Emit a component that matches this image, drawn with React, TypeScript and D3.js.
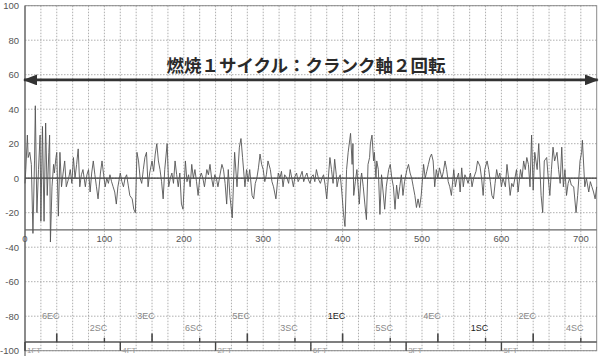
import React from "react";
import * as d3 from "d3";

const yTicks = [100, 80, 60, 40, 20, 0, -20, -40, -60, -80, -100];
const xTicks = [0, 100, 200, 300, 400, 500, 600, 700];
const title = "燃焼１サイクル：クランク軸２回転";

const ecEvents: [number, string][] = [
  [40, "6EC"], [160, "3EC"], [280, "5EC"], [400, "1EC"], [520, "4EC"], [640, "2EC"],
];
const scEvents: [number, string][] = [
  [100, "2SC"], [220, "6SC"], [340, "3SC"], [460, "5SC"], [580, "1SC"], [700, "4SC"],
];
const ftEvents: [number, string][] = [
  [0, "1FT"], [120, "4FT"], [240, "2FT"], [360, "6FT"], [480, "3FT"], [600, "5FT"],
];

// crank angle (deg), value
const signal: [number, number][] = [
  [0, -3], [1, 5], [3, 25], [4, 12], [6, 15], [8, 8], [10, -32], [12, 10], [13, 42], [15, -20],
  [17, 5], [19, 25], [20, -25], [22, 30], [24, -25], [26, 32], [28, -10], [30, 15], [31, 25], [32, -37],
  [34, -5], [36, 8], [37, 3], [39, 12], [40, 15], [42, -22], [44, 15], [46, -5], [48, 3], [50, 10],
  [52, -5], [55, 0], [57, 5], [59, -3], [61, 12], [63, 0], [65, 8], [67, 17], [69, -5], [71, 2],
  [73, 5], [76, -5], [78, 2], [80, 5], [82, -8], [84, 3], [86, 10], [88, 2], [90, -5], [92, -12],
  [95, 3], [97, 10], [99, 2], [101, -5], [103, 0], [105, -3], [107, 2], [109, -2], [111, -5], [113, -8],
  [115, -15], [117, -5], [120, 3], [122, -2], [124, -5], [126, 0], [128, 2], [130, -4], [132, -10], [135, -12],
  [137, -18], [139, -20], [141, 15], [143, 10], [145, 0], [147, -3], [149, 5], [151, 12], [153, 15], [155, -5],
  [157, 3], [160, 10], [162, 4], [164, 14], [166, 20], [168, 10], [170, 5], [172, -2], [174, -12], [176, 5],
  [179, 20], [181, -5], [183, 0], [185, 3], [187, -3], [189, 10], [191, 2], [193, -5], [195, 3], [197, -15],
  [199, -18], [202, 10], [204, -2], [206, 2], [208, -5], [210, 8], [212, 0], [214, 5], [216, -2], [218, -10],
  [220, 0], [222, 3], [224, 0], [226, -5], [229, 5], [231, 2], [233, 8], [235, 0], [237, -5], [239, 2],
  [241, 0], [243, -5], [246, 3], [248, 8], [250, 5], [252, -3], [254, -15], [256, 5], [258, -10], [261, -23],
  [264, 15], [267, -5], [270, 18], [272, 23], [274, 12], [277, -5], [279, 5], [281, -2], [283, 5], [286, -10],
  [288, -12], [290, -3], [292, 0], [294, 6], [296, 14], [298, 8], [300, 5], [302, -2], [304, 2], [306, 10],
  [309, 5], [311, -2], [313, -5], [316, -12], [319, 3], [321, 0], [323, 4], [325, -5], [327, 2], [330, 0],
  [332, -3], [334, 5], [336, 0], [338, -5], [340, 1], [342, 3], [344, -2], [346, 0], [349, 4], [351, -2],
  [353, 1], [355, 3], [357, -1], [359, -3], [361, 1], [363, 2], [365, -2], [367, 5], [370, -1], [372, -3],
  [374, 0], [376, 2], [378, -4], [380, -12], [382, 0], [384, 12], [386, 5], [388, -3], [390, 11], [392, 2],
  [393, -5], [395, 0], [397, 2], [399, -8], [401, -20], [403, -28], [405, 5], [407, 15], [410, 26], [412, 8],
  [413, 20], [414, -10], [416, -2], [418, 5], [420, -8], [421, -15], [423, 0], [424, 3], [426, -5], [428, -15],
  [430, -24], [432, 8], [434, 12], [435, 20], [437, 25], [439, 10], [440, 15], [442, 0], [443, 10], [445, 5],
  [447, -21], [449, 2], [451, -8], [453, -18], [455, -5], [458, 5], [460, 8], [462, 0], [464, -5], [466, -18],
  [468, -4], [470, -12], [472, -5], [474, 2], [476, -10], [478, -2], [481, 5], [483, 8], [485, 3], [487, 0],
  [489, -5], [491, -10], [493, -17], [495, -12], [497, -17], [499, -10], [502, 8], [504, 0], [506, 4], [508, 8],
  [510, 12], [512, 14], [514, 10], [516, -5], [518, 5], [520, 0], [522, 6], [524, 2], [525, 0], [527, 4],
  [529, 10], [531, 5], [533, -2], [535, -5], [537, -10], [540, 5], [542, -5], [544, 0], [546, 3], [548, -8],
  [550, 6], [552, -5], [554, 2], [556, 0], [558, -3], [561, 3], [563, -5], [565, 0], [568, 4], [570, 10],
  [573, 7], [575, 0], [577, -10], [579, 5], [582, 10], [584, 5], [586, -2], [588, -10], [590, -12], [592, -3],
  [594, 5], [596, 0], [598, 3], [600, -5], [602, 0], [605, -5], [607, 8], [609, 0], [611, -10], [613, -3],
  [615, -5], [617, 0], [619, 5], [621, -8], [624, 5], [626, 0], [628, 10], [630, 5], [632, 12], [634, 8],
  [636, -5], [638, 25], [640, -7], [642, 15], [645, 5], [647, 20], [650, -10], [652, -20], [654, 10], [657, 12],
  [659, 0], [661, -10], [663, 5], [665, 18], [667, 10], [670, 15], [672, 5], [674, -3], [676, 18], [678, -5],
  [680, 5], [682, -10], [684, -3], [686, 0], [688, -4], [691, -5], [694, -20], [696, -10], [699, 10], [701, 15],
  [702, 22], [705, -5], [707, 0], [710, -8], [712, -2], [714, -5], [716, -8], [718, -12], [720, -5],
];

const W = 600;
const H = 356;

export default function App() {
  const x = d3.scaleLinear().domain([0, 720]).range([25, 596.7]);
  const y = d3.scaleLinear().domain([-100, 100]).range([350.7, 5.7]);
  const gridX = d3.range(20, 720, 20);
  const line = d3
    .line<[number, number]>()
    .x((d) => x(d[0]))
    .y((d) => y(d[1]));
  const font = "'Liberation Sans', Arial, sans-serif";
  const axisY = -30;
  const baseY = -95;
  return (
    <svg
      width={W}
      height={H}
      style={{ position: "absolute", left: 0, top: 0, background: "#fff" }}
      fontFamily={font}
    >
      {/* grid */}
      {yTicks.map((t) => (
        <line key={"gy" + t} x1={x(0)} x2={x(720)} y1={y(t)} y2={y(t)}
          stroke="#9a9a9a" strokeWidth={0.8} strokeDasharray="1.5,1.5" />
      ))}
      {gridX.map((t) => (
        <line key={"gx" + t} x1={x(t)} x2={x(t)} y1={y(100)} y2={y(-100)}
          stroke="#9a9a9a" strokeWidth={0.8} strokeDasharray="1.5,1.5" />
      ))}
      {/* frame */}
      <rect x={x(0)} y={y(100)} width={x(720) - x(0)} height={y(-100) - y(100)}
        fill="none" stroke="#8a8a8a" strokeWidth={1} />
      <line x1={x(0)} x2={x(0)} y1={y(100)} y2={H} stroke="#666" strokeWidth={1.2} />
      {/* y labels */}
      {yTicks.map((t) => (
        <text key={"ly" + t} x={19} y={y(t)} dy="0.35em" textAnchor="end"
          fontSize={9.5} fill="#555">{t}</text>
      ))}
      {/* zero line and x axis line */}
      <line x1={x(0)} x2={x(720)} y1={y(0)} y2={y(0)} stroke="#333" strokeWidth={1.3} />
      <line x1={x(0)} x2={x(720)} y1={y(axisY)} y2={y(axisY)} stroke="#666" strokeWidth={1.2} />
      {xTicks.map((t) => (
        <text key={"lx" + t} x={x(t)} y={y(axisY) + 12} textAnchor="middle"
          fontSize={9.5} fill="#555">{t}</text>
      ))}
      {/* signal */}
      <path d={line(signal) || ""} fill="none" stroke="#555" strokeWidth={0.9} strokeLinejoin="round" />
      {/* title arrow */}
      <defs>
        <marker id="ah" viewBox="0 0 14 11" refX={13} refY={5.5} markerWidth={14} markerHeight={11}
          markerUnits="userSpaceOnUse" orient="auto-start-reverse">
          <path d="M0,0 L14,5.5 L0,11 Z" fill="#333" />
        </marker>
      </defs>
      <line x1={x(0) - 1} x2={x(720) + 1} y1={y(57)} y2={y(57)} stroke="#333" strokeWidth={2.8}
        markerStart="url(#ah)" markerEnd="url(#ah)" />
      <text x={306} y={72} textAnchor="middle" fontSize={17.5} fill="#2a2a2a" fontWeight="bold"
        fontFamily="'Noto Sans CJK JP', sans-serif">{title}</text>
      {/* crank event baseline */}
      <line x1={x(0)} x2={x(720)} y1={y(baseY)} y2={y(baseY)} stroke="#555" strokeWidth={1.5} />
      {ecEvents.map(([a, l]) => (
        <g key={l}>
          <line x1={x(a)} x2={x(a)} y1={y(baseY)} y2={y(-90)} stroke="#444" strokeWidth={1.6} />
          <text x={x(a) - 6} y={y(-80) + 3} textAnchor="middle" fontSize={9}
            fill={l.startsWith("1") ? "#222" : "#888"}>{l}</text>
        </g>
      ))}
      {scEvents.map(([a, l]) => (
        <g key={l}>
          <line x1={x(a)} x2={x(a)} y1={y(baseY)} y2={y(-92.5)} stroke="#444" strokeWidth={1.4} />
          <text x={x(a) - 6} y={y(-87) + 3} textAnchor="middle" fontSize={9}
            fill={l.startsWith("1") ? "#222" : "#888"}>{l}</text>
        </g>
      ))}
      {ftEvents.map(([a, l]) => (
        <g key={l}>
          <line x1={x(a)} x2={x(a)} y1={y(baseY)} y2={y(-100)} stroke="#444" strokeWidth={1.4} />
          <text x={x(a) + 2} y={353} fontSize={8} fill="#999">{l}</text>
        </g>
      ))}
    </svg>
  );
}
